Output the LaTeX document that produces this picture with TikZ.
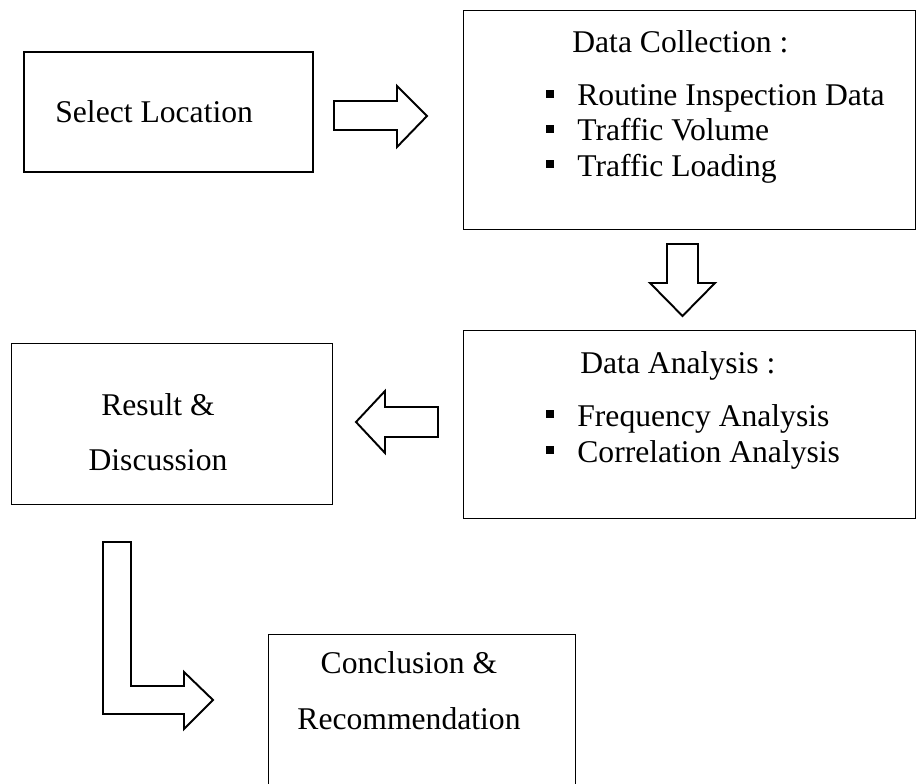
\documentclass[tikz,border=0pt]{standalone}
\usepackage{fontspec}
\setmainfont{Liberation Serif}
\usetikzlibrary{positioning}

\tikzset{
  box/.style={draw, line width=0.6pt, anchor=north west, inner sep=0pt},
  txt/.style={anchor=base west, inner sep=0pt, font=\fontsize{18}{20}\selectfont},
  ctxt/.style={anchor=base, inner sep=0pt, font=\fontsize{18}{20}\selectfont},
  sq/.style={fill=black, minimum size=0.15cm, inner sep=0pt},
  blockarrow/.style={draw, line width=1.1pt, line join=miter, fill=white},
}

\begin{document}
\begin{tikzpicture}[x=0.02cm, y=-0.02cm]
        \useasboundingbox (0,0) rectangle (917,784);
        \clip (0,0) rectangle (917,784);

        % boxes
        \node[box, line width=1.1pt, minimum width=5.78cm, minimum height=2.4cm] (select) at (23,51) {};
        \node[box, minimum width=9.04cm, minimum height=4.38cm] (collect) at (463,10) {};
        \node[box, minimum width=9.04cm, minimum height=3.76cm] (analysis) at (463,330) {};
        \node[box, minimum width=6.42cm, minimum height=3.22cm] (result) at (11,343) {};
        \node[box, minimum width=6.14cm, minimum height=3.4cm] (concl) at (268,634) {};

        % texts
        \node[txt] (selecttxt) at (55,123) {Select Location};
        \node[txt] (collecttxt) at (572,53) {Data Collection :};
        \foreach \y/\t [count=\i] in {106/Routine Inspection Data, 141/Traffic Volume, 176/Traffic Loading}{
            \node[txt] (coll\i) at (577,\y) {\t};
            \node[sq] (collb\i) at (550,\y-12) {};
        }
        \node[txt] (analysistxt) at (580,373) {Data Analysis :};
        \foreach \y/\t [count=\i] in {426/Frequency Analysis, 462/Correlation Analysis}{
            \node[txt] (ana\i) at (577,\y) {\t};
            \node[sq] (anab\i) at (550,\y-12) {};
        }
        \node[ctxt] (result1) at (158,415) {Result \&};
        \node[ctxt] (result2) at (158,470) {Discussion};
        \node[ctxt] (concl1) at (409,673) {Conclusion \&};
        \node[ctxt] (concl2) at (409,729) {Recommendation};

        % block arrows
        \draw[blockarrow] (334,101) -- (397,101) -- (397,86) -- (427,116) -- (397,147) -- (397,130) -- (334,130) -- cycle;
        \draw[blockarrow] (667,244) -- (698,244) -- (698,283) -- (715,283) -- (682.5,316) -- (650,283) -- (667,283) -- cycle;
        \draw[blockarrow] (438,407) -- (385,407) -- (385,391) -- (356,422) -- (385,453) -- (385,437) -- (438,437) -- cycle;
        \draw[blockarrow] (103,542) -- (131,542) -- (131,686) -- (184,686) -- (184,672) -- (213,700) -- (184,729) -- (184,714) -- (103,714) -- cycle;
    \end{tikzpicture}
\end{document}
